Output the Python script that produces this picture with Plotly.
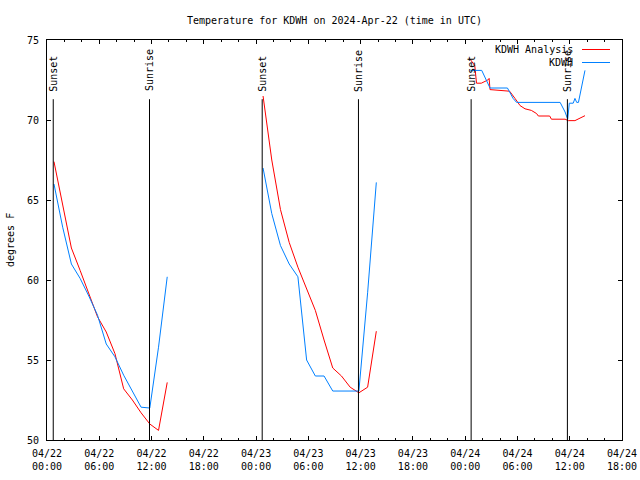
import plotly.graph_objects as go

# ---- data ----
day1_times = ["2024-04-22 %02d:48" % h for h in range(0, 14)]
day2_times = ["2024-04-23 %02d:48" % h for h in range(0, 14)]

analysis_day1 = [67.4, 64.7, 62.0, 60.6, 59.1, 57.7, 56.75, 55.4, 53.2, 52.5, 51.7, 51.0, 50.6, 53.6]
obs_day1 = [66.0, 63.3, 61.0, 60.1, 59.0, 57.8, 56.0, 55.2, 54.05, 53.0, 52.05, 52.0, 55.8, 60.2]

analysis_day2 = [71.5, 67.5, 64.4, 62.35, 60.8, 59.5, 58.1, 56.25, 54.5, 54.0, 53.3, 52.95, 53.3, 56.8]
obs_day2 = [67.0, 64.15, 62.15, 61.0, 60.2, 55.0, 54.0, 54.0, 53.06, 53.06, 53.06, 53.06, 59.2, 66.1]

analysis_day3_times = ["2024-04-24 00:30", "2024-04-24 01:06", "2024-04-24 01:18", "2024-04-24 01:51",
                       "2024-04-24 02:36", "2024-04-24 02:45", "2024-04-24 02:51", "2024-04-24 04:00",
                       "2024-04-24 04:42", "2024-04-24 05:06", "2024-04-24 05:43", "2024-04-24 06:18",
                       "2024-04-24 06:52", "2024-04-24 07:36", "2024-04-24 08:12", "2024-04-24 08:24",
                       "2024-04-24 09:42", "2024-04-24 09:54", "2024-04-24 11:28", "2024-04-24 11:50",
                       "2024-04-24 12:36", "2024-04-24 13:12", "2024-04-24 13:45"]
analysis_day3 = [73.85, 73.4, 72.3, 72.3, 72.5, 72.6, 71.9, 71.85, 71.8, 71.8, 71.35, 70.9,
                 70.7, 70.6, 70.4, 70.25, 70.25, 70.05, 70.05, 69.96, 69.96, 70.1, 70.27]

obs_day3_times = ["2024-04-24 00:36", "2024-04-24 01:54", "2024-04-24 02:51", "2024-04-24 04:51",
                  "2024-04-24 05:30", "2024-04-24 05:54", "2024-04-24 10:54", "2024-04-24 11:28",
                  "2024-04-24 11:46", "2024-04-24 11:57", "2024-04-24 12:24", "2024-04-24 12:36",
                  "2024-04-24 12:48", "2024-04-24 13:00", "2024-04-24 13:45"]
obs_day3 = [73.1, 73.1, 72.0, 72.0, 71.35, 71.1, 71.1, 70.5, 70.05, 71.05, 71.05, 71.35, 71.1, 71.1, 73.1]

sunsets = ["2024-04-22 00:43", "2024-04-23 00:42", "2024-04-24 00:41"]
sunrises = ["2024-04-22 11:46", "2024-04-23 11:45", "2024-04-24 11:44"]

tick_vals = ["2024-04-22 00:00", "2024-04-22 06:00", "2024-04-22 12:00", "2024-04-22 18:00",
             "2024-04-23 00:00", "2024-04-23 06:00", "2024-04-23 12:00", "2024-04-23 18:00",
             "2024-04-24 00:00", "2024-04-24 06:00", "2024-04-24 12:00", "2024-04-24 18:00"]
tick_text = ["04/22<br>00:00", "04/22<br>06:00", "04/22<br>12:00", "04/22<br>18:00",
             "04/23<br>00:00", "04/23<br>06:00", "04/23<br>12:00", "04/23<br>18:00",
             "04/24<br>00:00", "04/24<br>06:00", "04/24<br>12:00", "04/24<br>18:00"]

title = "Temperature for KDWH on 2024-Apr-22 (time in UTC)"
series_names = ["KDWH Analysis", "KDWH"]
colors = ["#ff0000", "#0080ff"]

FONT = "DejaVu Sans Mono"

PLOT_L, PLOT_R, PLOT_T, PLOT_B = 47, 622, 40, 440  # target pixel box in the window


def join(segments):
    xs, ys = [], []
    for t, v in segments:
        xs += list(t) + [None]
        ys += list(v) + [None]
    return xs, ys


ax, ay = join([(day1_times, analysis_day1), (day2_times, analysis_day2), (analysis_day3_times, analysis_day3)])
ox, oy = join([(day1_times, obs_day1), (day2_times, obs_day2), (obs_day3_times, obs_day3)])

fig = go.Figure()
fig.add_trace(go.Scatter(x=ax, y=ay, mode="lines", name=series_names[0],
                         line=dict(color=colors[0], width=1), connectgaps=False))
fig.add_trace(go.Scatter(x=ox, y=oy, mode="lines", name=series_names[1],
                         line=dict(color=colors[1], width=1), connectgaps=False))

line_top = 71.3
for label, times in (("Sunset", sunsets), ("Sunrise", sunrises)):
    for t in times:
        fig.add_shape(type="line", x0=t, x1=t, y0=50, y1=line_top, xref="x", yref="y",
                      line=dict(color="black", width=1))
        fig.add_annotation(x=t, y=71.65, xref="x", yref="y", text=label, textangle=-90,
                           showarrow=False, xanchor="center", yanchor="bottom",
                           font=dict(family=FONT, size=10, color="black"))

pw = PLOT_R - PLOT_L
ph = PLOT_B - PLOT_T

# legend (gnuplot style: text then sample)
legend_rows = [49.5, 62.5]
for name, col, ypx in zip(series_names, colors, legend_rows):
    yp = 1 - (ypx - PLOT_T) / ph
    fig.add_annotation(x=(575 - PLOT_L) / pw, y=yp, xref="paper", yref="paper", text=name,
                       showarrow=False, xanchor="right", yanchor="middle",
                       font=dict(family=FONT, size=10, color="black"))
    fig.add_shape(type="line", x0=(582 - PLOT_L) / pw, x1=(610 - PLOT_L) / pw, y0=yp, y1=yp,
                  xref="paper", yref="paper", line=dict(color=col, width=1))

fig.add_annotation(x=0, y=0.5, xref="paper", yref="paper", text="degrees F", textangle=-90,
                   showarrow=False, xanchor="center", yanchor="middle", xshift=-37,
                   font=dict(family=FONT, size=10, color="black"))

W, H = 640, 480
fig.update_layout(
    width=W, height=H,
    margin=dict(l=PLOT_L, r=W - PLOT_R, t=PLOT_T, b=H - PLOT_B, autoexpand=False),
    paper_bgcolor="white", plot_bgcolor="white",
    showlegend=False,
    hovermode=False,
    title=dict(text=title, x=0.5, xref="paper", y=1 - 20 / H, yref="container",
               xanchor="center", yanchor="middle",
               font=dict(family=FONT, size=10, color="black")),
    font=dict(family=FONT, size=10, color="black"),
)
fig.update_xaxes(type="date", range=["2024-04-22 00:00", "2024-04-24 18:00"],
                 tickvals=tick_vals, ticktext=tick_text, automargin=False,
                 showgrid=False, zeroline=False, showline=True, linecolor="black", linewidth=1,
                 mirror="allticks", ticks="inside", ticklen=4, tickcolor="black",
                 ticklabelstandoff=4,
                 minor=dict(dtick=2 * 3600 * 1000, tick0="2024-04-22 00:00", ticks="inside",
                            ticklen=2, tickcolor="black", showgrid=False),
                 tickfont=dict(family=FONT, size=10, color="black"))
fig.update_yaxes(range=[50, 75], dtick=5, tick0=50, automargin=False,
                 showgrid=False, zeroline=False, showline=True, linecolor="black", linewidth=1,
                 mirror="allticks", ticks="inside", ticklen=4, tickcolor="black",
                 ticklabelstandoff=5,
                 tickfont=dict(family=FONT, size=10, color="black"))

fig.write_html("out.html", config={"displayModeBar": False},
               post_script="document.body.style.margin='0px';document.body.style.padding='0px';")
